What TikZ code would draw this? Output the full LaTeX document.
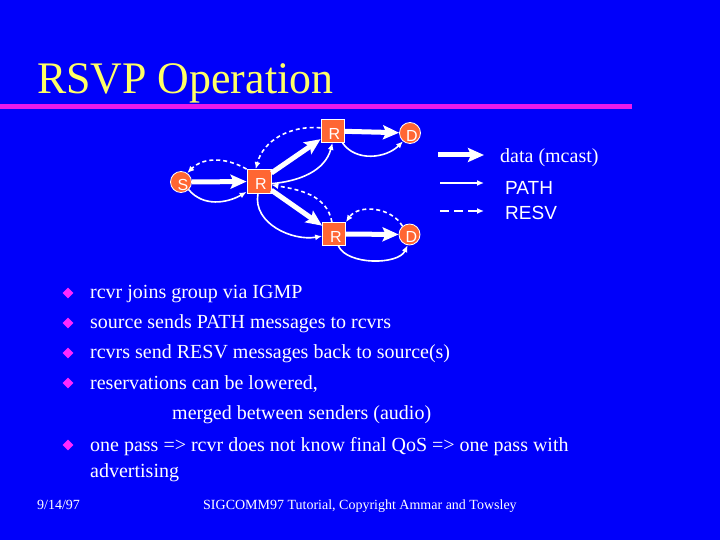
\documentclass[tikz,border=0pt]{standalone}
\usepackage{fontspec}
\setmainfont{Liberation Serif}
\newfontfamily\lsans{Liberation Sans}
\usetikzlibrary{arrows.meta,shapes.geometric}
\definecolor{bg}{RGB}{0,0,250}
\definecolor{ttl}{RGB}{255,255,102}
\definecolor{mag}{RGB}{235,25,235}
\definecolor{bul}{RGB}{255,40,255}
\definecolor{org}{RGB}{255,102,51}
\newcommand{\lbl}[1]{\hspace*{2pt}\raisebox{-2.5pt}[\height][\depth]{#1}\hspace*{-2pt}}
\tikzset{
  rnode/.style={draw=white, line width=0.8pt, fill=org, minimum size=23pt, inner sep=0pt,
    font=\lsans\fontsize{16}{16}\selectfont, text=white},
  cnode/.style={circle, draw=white, line width=0.8pt, fill=org, minimum size=21pt, inner sep=0pt,
    font=\lsans\fontsize{16}{16}\selectfont, text=white},
  data/.style={white, line width=5pt, -{Stealth[length=16pt,width=14pt,inset=3pt]}},
  pth/.style={white, line width=1.6pt, -{Latex[length=7pt,width=6pt]}},
  resv/.style={pth, dash pattern=on 4pt off 3pt},
  txt/.style={anchor=base west, inner sep=0pt, text=white, font=\fontsize{20}{20}\selectfont},
  bullet/.style={diamond, fill=bul, minimum size=11pt, inner sep=0pt},
}
\begin{document}
\begin{tikzpicture}[x=1pt,y=1pt]
\fill[bg] (0,0) rectangle (720,-540);
\useasboundingbox (0,0) rectangle (720,-540);
% title
\node[anchor=base west, inner sep=0pt, text=ttl, font=\fontsize{43}{43}\selectfont] (title) at (37,-94) {\scalebox{1.02}[1.05]{RSVP Operation}};
\draw[mag, line width=5pt] (0,-107) -- (632,-107);
% nodes
\node[cnode] (S) at (181,-182) {\lbl{S}};
\node[rnode, minimum size=24pt] (R) at (259,-181.5) {\lbl{R}};
\node[rnode] (Rt) at (332.5,-131) {\lbl{R}};
\node[cnode] (Dt) at (410,-133) {\lbl{D}};
\node[rnode] (Rb) at (334,-234) {\lbl{R}};
\node[cnode] (Db) at (409.5,-234.5) {\lbl{D}};
% data
\draw[data] (S) -- (R);
\draw[data] (R) -- (Rt);
\draw[data] (R) -- (Rb);
\draw[data] (Rt) -- (Dt);
\draw[data] (Rb) -- (Db);
% PATH
\draw[pth] (S.-45) to[out=-50,in=-150] (R.-140);
\draw[pth] (R.-10) to[out=5,in=-105] (Rt.south);
\draw[pth] (Rt.-50) to[out=-55,in=-135] (Dt.-130);
\draw[pth] (R.-95) to[out=-100,in=190] (Rb.-170);
\draw[pth] (Rb.-70) to[out=-65,in=-115,looseness=0.8] (Db.-100);
% RESV
\draw[resv] (Rt.165) to[out=175,in=75] (R.105);
\draw[resv] (R.north west) to[out=150,in=45] (S.55);
\draw[resv] (Db.130) to[out=120,in=55] (Rb.north east);
\draw[resv] (Rb.100) to[out=100,in=-10] (R.-15);
% legend
\coordinate (l1a) at (438,-155); \coordinate (l1b) at (484,-155);
\coordinate (l2a) at (440,-183); \coordinate (l2b) at (484,-183);
\coordinate (l3a) at (440,-211); \coordinate (l3b) at (484,-211);
\draw[data] (l1a) -- (l1b);
\draw[pth] (l2a) -- (l2b);
\draw[pth, dash pattern=on 9pt off 5pt] (l3a) -- (l3b);
\node[txt] (ldata) at (500,-163) {data (mcast)};
\node[txt, font=\lsans\fontsize{19}{19}\selectfont] (lpath) at (505,-195) {PATH};
\node[txt, font=\lsans\fontsize{19}{19}\selectfont] (lresv) at (505,-220) {RESV};
% bullets
\node[bullet] (b1) at (68,-293) {};
\node[bullet] (b2) at (68,-323) {};
\node[bullet] (b3) at (68,-353) {};
\node[bullet] (b4) at (68,-383) {};
\node[bullet] (b5) at (68,-445) {};
\node[txt] (t1) at (90,-298) {rcvr joins group via IGMP};
\node[txt] (t2) at (90,-328) {source sends PATH messages to rcvrs};
\node[txt] (t3) at (90,-358) {rcvrs send RESV messages back to source(s)};
\node[txt] (t4) at (90,-389) {reservations can be lowered,};
\node[txt] (t4b) at (172,-419) {merged between senders (audio)};
\node[txt] (t5) at (90,-451) {one pass => rcvr does not know final QoS => one pass with};
\node[txt] (t5b) at (90,-477) {advertising};
% footer
\node[txt, font=\fontsize{14}{14}\selectfont] (date) at (37,-509) {9/14/97};
\node[txt, font=\fontsize{14}{14}\selectfont] (foot) at (203,-509) {SIGCOMM97 Tutorial, Copyright Ammar and Towsley};
\end{tikzpicture}
\end{document}
